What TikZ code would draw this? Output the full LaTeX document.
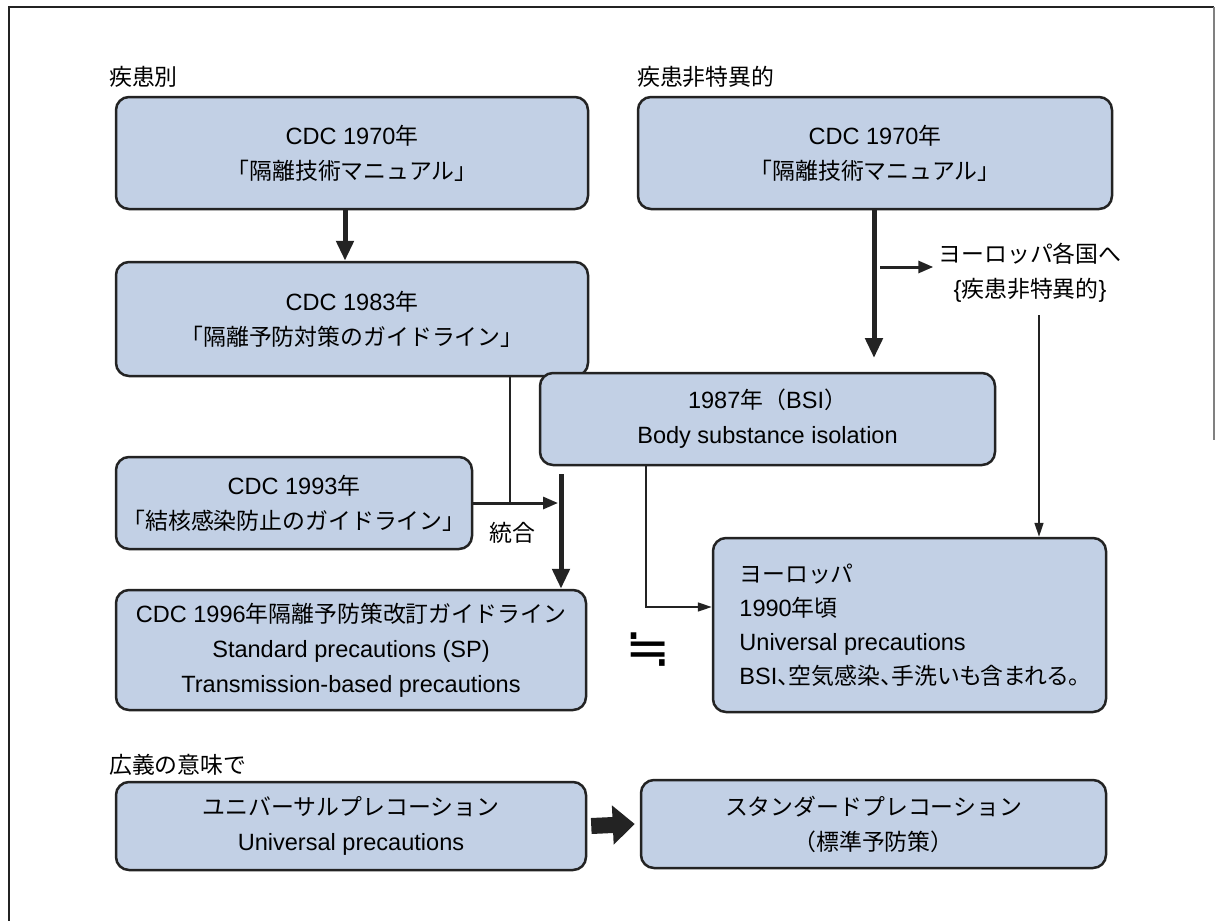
\documentclass[tikz,border=0pt]{standalone}
\usepackage{fontspec}
\setmainfont{Liberation Sans}[Scale=1.07]
\newfontfamily\jp{Noto Sans CJK JP}[Scale=1.04]
\newfontfamily\jpnarrow{Noto Sans CJK JP}[Scale=1.04, RawFeature=+palt]
\newfontfamily\symb{DejaVu Sans}
\usetikzlibrary{arrows.meta}

\definecolor{blockColor}{RGB}{194,208,229}
\definecolor{lineColor}{RGB}{35,35,35}

\tikzset{
  block/.style={draw=lineColor, line width=2.5pt, fill=blockColor, rounded corners=13pt,
    align=center, inner sep=0pt},
  label/.style={anchor=west, inner sep=0pt},
  bigArrow/.style={draw=lineColor, line width=5pt, -{Triangle[width=17pt,length=20pt]}},
  midArrow/.style={draw=lineColor, line width=3pt, -{Triangle[width=12pt,length=15pt]}},
  thinArrow/.style={draw=lineColor, line width=1.6pt, -{Triangle[width=9pt,length=14pt]}},
  thinLine/.style={draw=lineColor, line width=1.6pt},
}

\begin{document}
\begin{tikzpicture}[x=1pt,y=-1pt,font=\fontsize{22}{35}\selectfont]
  \useasboundingbox (0,0) rectangle (1216,921);
  % Frame
  \draw[lineColor, line width=2pt] (9,921) -- (9,7) -- (1214,7);
  \draw[gray, line width=1.2pt] (1214,7) -- (1214,440);

  % Headings
  \node[label] (diseaseLabel) at (109,77) {\jp 疾患別};
  \node[label] (generalLabel) at (637,77) {\jp 疾患非特異的};
  \node[label] (broadLabel) at (109,765) {\jp 広義の意味で};

  % Blocks
  \node[block, minimum width=472pt, minimum height=112pt] (disease1970) at (352,153)
    {CDC 1970{\jp 年}\\{\jp 「隔離技術マニュアル」}};
  \node[block, minimum width=474pt, minimum height=112pt] (general1970) at (875,153)
    {CDC 1970{\jp 年}\\{\jp 「隔離技術マニュアル」}};
  \node[block, minimum width=472pt, minimum height=114pt] (cdc1983) at (352,319)
    {CDC 1983{\jp 年}\\{\jp 「隔離予防対策のガイドライン」}};
  \node[block, minimum width=455pt, minimum height=92pt] (bsi1987) at (767.5,419)
    {1987{\jp 年（}BSI{\jp ）}\\Body substance isolation};
  \node[block, minimum width=356pt, minimum height=92pt] (cdc1993) at (294,503)
    {CDC 1993{\jp 年}\\{\jp 「結核感染防止のガイドライン」}};
  \node[block, minimum width=470pt, minimum height=120pt] (cdc1996) at (351,650)
    {CDC 1996{\jp 年隔離予防策改訂ガイドライン}\\Standard precautions (SP)\\Transmission-based precautions};
  \node[block, minimum width=393pt, minimum height=174pt, align=left,
    font=\fontsize{22}{34}\selectfont] (europe1990) at (909.5,625)
    {{\jp ヨーロッパ}\\1990{\jp 年頃}\\Universal precautions\\BSI{\jpnarrow 、空気感染、手洗いも含まれる。}};
  \node[block, minimum width=470pt, minimum height=88pt] (universalPC) at (351,826)
    {{\jp ユニバーサルプレコーション}\\Universal precautions};
  \node[block, minimum width=465pt, minimum height=88pt] (standardPC) at (873.5,824)
    {{\jp スタンダードプレコーション}\\{\jp （標準予防策）}};

  % Free texts
  \node[inner sep=5pt, align=center] (toEurope) at (1030,272.5)
    {{\jp ヨーロッパ各国へ}\\\{{\jp 疾患非特異的}\}};
  \node (merge) at (512,533) {\jp 統合};
  \node (approx) at (648,650) {\fontsize{54}{54}\selectfont\symb ≒};

  % Connectors
  \draw[bigArrow] ([xshift=-7pt]disease1970.south) -- ([xshift=-7pt]cdc1983.north);
  \coordinate (bsiIn) at (874,358);
  \draw[bigArrow] (general1970.south -| bsiIn) -- (bsiIn);
  \coordinate (branch) at (880,267);
  \draw[midArrow] (branch) -- (branch -| toEurope.west);
  \coordinate (europeOut) at (1039,315);
  \draw[thinArrow] (europeOut) -- (europeOut |- europe1990.north);
  \coordinate (joinPt) at (510,503);
  \draw[thinLine] (cdc1983.south -| joinPt) -- (joinPt);
  \coordinate (mergeTop) at (561,474);
  \draw[midArrow] (cdc1993.east) -- ([xshift=-3pt]mergeTop |- cdc1993.east);
  \draw[bigArrow] (mergeTop) -- (mergeTop |- cdc1996.north);
  \draw[thinArrow] ([xshift=-121.5pt]bsi1987.south) |- ([yshift=18pt]europe1990.west);
  \draw[lineColor, line width=16pt, -{Triangle[width=38pt,length=22pt]}]
    ([xshift=4pt]universalPC.east) -- ([xshift=-5pt]standardPC.west);
\end{tikzpicture}
\end{document}
